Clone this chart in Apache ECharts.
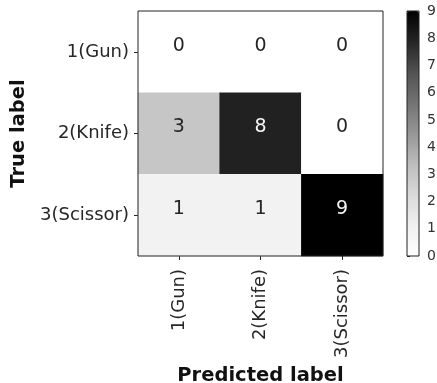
<!DOCTYPE html>
<html><head><meta charset="utf-8">
<script src="https://cdn.jsdelivr.net/npm/echarts@6/dist/echarts.min.js"></script>
<style>html,body{margin:0;padding:0;background:#fff}#c{width:437px;height:383px}</style>
</head><body><div id="c"></div>
<script>
const predictedLabels = ['1(Gun)', '2(Knife)', '3(Scissor)'];
const trueLabels = ['1(Gun)', '2(Knife)', '3(Scissor)'];
const rowGun = [0, 0, 0];
const rowKnife = [3, 8, 0];
const rowScissor = [1, 1, 9];
const colorbarTicks = [0, 1, 2, 3, 4, 5, 6, 7, 8, 9];

const rows = [rowGun, rowKnife, rowScissor];
const vmax = 9;
const thresh = vmax / 2;
const data = [];
rows.forEach((r, i) => r.forEach((v, j) => {
  data.push({value: [j, i, v], label: {color: v > thresh ? '#f5f5f5' : '#262626'}});
}));
const font = 'DejaVu Sans';
const chart = echarts.init(document.getElementById('c'));
chart.setOption({
  animation: false,
  backgroundColor: '#fff',
  grid: [
    {left: 138, top: 11, width: 245, height: 245, show: true, z: 10, containLabel: false,
     outerBoundsMode: 'none',
     backgroundColor: 'transparent', borderColor: '#222', borderWidth: 1},
    {left: 407, top: 11, width: 12, height: 245, show: true, z: 10, containLabel: false,
     outerBoundsMode: 'none',
     backgroundColor: 'transparent', borderColor: '#222', borderWidth: 1}
  ],
  xAxis: [
    {type: 'category', gridIndex: 0, data: predictedLabels, position: 'bottom',
     axisLine: {show: false}, splitLine: {show: false}, splitArea: {show: false},
     axisTick: {show: true, alignWithLabel: true, length: 4, lineStyle: {color: '#222'}},
     axisLabel: {rotate: 90, fontSize: 18, fontFamily: font, color: '#262626', margin: 13},
     name: 'Predicted label', nameLocation: 'middle', nameGap: 105,
     nameTextStyle: {fontSize: 19.5, fontWeight: 'bold', fontFamily: font, color: '#111'}},
    {type: 'value', gridIndex: 1, min: 0, max: 1, show: false}
  ],
  yAxis: [
    {type: 'category', gridIndex: 0, data: trueLabels, inverse: true,
     axisLine: {show: false}, splitLine: {show: false}, splitArea: {show: false},
     axisTick: {show: true, alignWithLabel: true, length: 4, lineStyle: {color: '#222'}},
     axisLabel: {fontSize: 18, fontFamily: font, color: '#262626', margin: 9},
     name: 'True label', nameLocation: 'middle', nameGap: 103,
     nameTextStyle: {fontSize: 19.5, fontWeight: 'bold', fontFamily: font, color: '#111'}},
    {type: 'value', gridIndex: 1, position: 'right', min: 0, max: 9, interval: 1,
     data: colorbarTicks,
     axisLine: {show: false}, splitLine: {show: false},
     axisTick: {show: true, length: 3, lineStyle: {color: '#222'}},
     axisLabel: {fontSize: 14, fontFamily: font, color: '#333', margin: 8}}
  ],
  visualMap: {
    type: 'continuous', min: 0, max: vmax, seriesIndex: 0, calculable: false,
    hoverLink: false, orient: 'vertical', left: 407, top: 11, padding: 0,
    itemWidth: 12, itemHeight: 245, text: null, showLabel: false,
    inRange: {color: ['#ffffff', '#f0f0f0', '#d9d9d9', '#bdbdbd', '#969696', '#737373', '#525252', '#252525', '#000000']}
  },
  series: [
    {type: 'heatmap', xAxisIndex: 0, yAxisIndex: 0, data: data,
     label: {show: true, fontSize: 19, fontFamily: font, offset: [0, -6],
       formatter: p => String(p.value[2])},
     itemStyle: {borderWidth: 0}},
    {type: 'scatter', xAxisIndex: 1, yAxisIndex: 1, data: []}
  ]
});
</script></body></html>
